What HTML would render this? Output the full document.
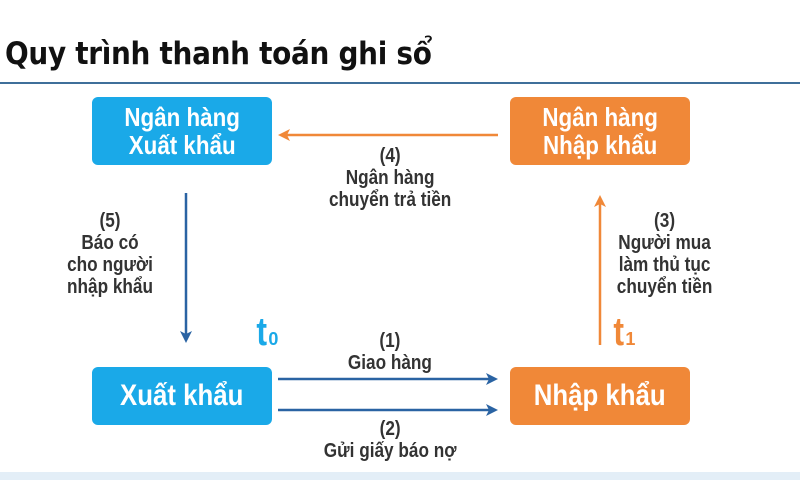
<!DOCTYPE html>
<html><head><meta charset="utf-8"><style>
body{margin:0;width:800px;height:480px;background:#fff;position:relative;overflow:hidden;font-family:"Liberation Sans",sans-serif;}
.t{position:absolute;left:5px;top:36px;font-family:"DejaVu Sans Condensed","Liberation Sans",sans-serif;font-weight:bold;font-size:31px;color:#111;letter-spacing:-0.3px}
.hl{position:absolute;left:0;top:82px;width:800px;height:2px;background:#3f6f9a}
.box{position:absolute;border-radius:6px;color:#fff;font-weight:bold;display:flex;align-items:center;justify-content:center;text-align:center;line-height:28px}
.box span,.lab span{display:inline-block;transform:scaleX(0.86)}
.b{background:#1aa9e8}.o{background:#f08838}
.lab{position:absolute;font-weight:bold;color:#333;font-size:20px;text-align:center;line-height:22px;white-space:nowrap}
.bot{position:absolute;left:0;top:472px;width:800px;height:8px;background:#e3eef7}
.tt{position:absolute;font-family:"Liberation Sans",sans-serif;font-weight:bold;font-size:40px;line-height:40px}
.tt sub{font-size:18px;vertical-align:baseline}
</style></head><body>
<div class="t">Quy trình thanh toán ghi sổ</div>
<div class="hl"></div>
<div class="box b" style="left:92px;top:97px;width:180px;height:68px;font-size:26px"><span>Ngân hàng<br>Xuất khẩu</span></div>
<div class="box o" style="left:510px;top:97px;width:180px;height:68px;font-size:26px"><span>Ngân hàng<br>Nhập khẩu</span></div>
<div class="box b" style="left:92px;top:367px;width:180px;height:58px;font-size:30px"><span>Xuất khẩu</span></div>
<div class="box o" style="left:510px;top:367px;width:180px;height:58px;font-size:30px"><span>Nhập khẩu</span></div>
<svg width="800" height="480" style="position:absolute;left:0;top:0">
<g stroke-width="2.5">
<line x1="498" y1="135" x2="284" y2="135" stroke="#f08838"/>
<polygon points="278,135 290,129 287,135 290,141" fill="#f08838"/>
<line x1="600" y1="345" x2="600" y2="201" stroke="#f08838"/>
<polygon points="600,195 594,207 600,204 606,207" fill="#f08838"/>
<line x1="186" y1="193" x2="186" y2="337" stroke="#2a63a3"/>
<polygon points="186,343 180,331 186,334 192,331" fill="#2a63a3"/>
<line x1="278" y1="379" x2="492" y2="379" stroke="#2a63a3"/>
<polygon points="498,379 486,373 489,379 486,385" fill="#2a63a3"/>
<line x1="278" y1="410" x2="492" y2="410" stroke="#2a63a3"/>
<polygon points="498,410 486,404 489,410 486,416" fill="#2a63a3"/>
</g></svg>
<div class="lab" style="left:290px;top:145px;width:200px"><span>(4)<br>Ngân hàng<br>chuyển trả tiền</span></div>
<div class="lab" style="left:50px;top:210px;width:120px"><span>(5)<br>Báo có<br>cho người<br>nhập khẩu</span></div>
<div class="lab" style="left:600px;top:210px;width:130px"><span>(3)<br>Người mua<br>làm thủ tục<br>chuyển tiền</span></div>
<div class="lab" style="left:290px;top:330px;width:200px"><span>(1)<br>Giao hàng</span></div>
<div class="lab" style="left:290px;top:418px;width:200px"><span>(2)<br>Gửi giấy báo nợ</span></div>
<div class="tt" style="left:255px;top:312px;color:#1aa9e8"><span style="display:inline-block;transform:scaleX(0.8)">t</span><sub>0</sub></div>
<div class="tt" style="left:612px;top:312px;color:#f08838"><span style="display:inline-block;transform:scaleX(0.8)">t</span><sub>1</sub></div>
<div class="bot"></div>
</body></html>
